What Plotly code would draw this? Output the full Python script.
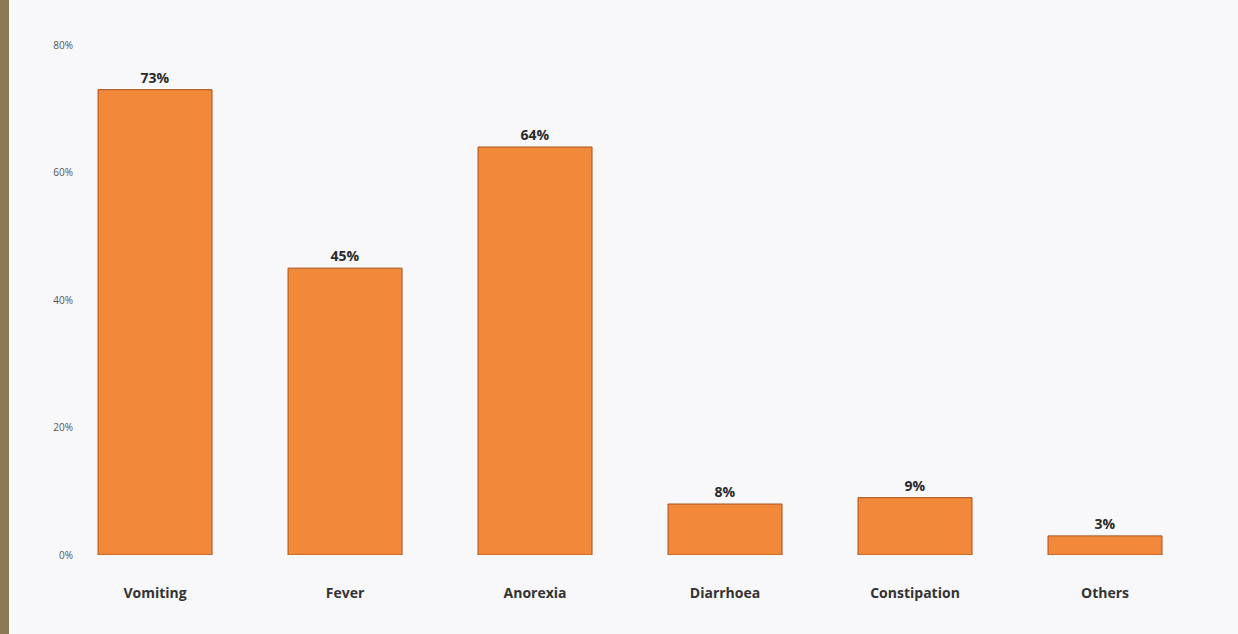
import plotly.graph_objects as go

# Symptom frequencies (percent of patients)
symptoms = ["Vomiting", "Fever", "Anorexia", "Diarrhoea", "Constipation", "Others"]
percent = [73, 45, 64, 8, 9, 3]
y_ticks = [0, 20, 40, 60, 80]
y_tick_text = ["0%", "20%", "40%", "60%", "80%"]

fig = go.Figure(
    go.Bar(
        x=symptoms,
        y=percent,
        width=0.6,
        marker=dict(color="#F2883A", line=dict(color="#A9521C", width=1)),
        texttemplate="%{y}%",
        textposition="outside",
        cliponaxis=False,
        textfont=dict(family="Open Sans", size=14, color="#2a2a2a", weight="bold"),
    )
)

fig.update_layout(
    width=1238,
    height=634,
    margin=dict(l=80, r=38, t=45, b=79),
    paper_bgcolor="#f8f7fa",
    plot_bgcolor="#f8f7fa",
    showlegend=False,
    xaxis=dict(
        range=[-0.395, 5.5],
        showgrid=False,
        showline=False,
        ticks="",
        ticklabelstandoff=28,
        tickfont=dict(family="Open Sans", size=14, color="#333333", weight="bold"),
    ),
    yaxis=dict(
        range=[0, 80],
        tickvals=y_ticks,
        ticktext=y_tick_text,
        ticklabelstandoff=6,
        showgrid=False,
        zeroline=False,
        showline=False,
        tickfont=dict(family="Open Sans", size=10, color="#555555"),
    ),
    shapes=[
        # brown page edge along the left side
        dict(type="rect", xref="paper", yref="paper",
             x0=-80 / 1120, x1=-71 / 1120, y0=-79 / 510, y1=45 / 510 + 1,
             fillcolor="#8b7a52", line=dict(width=0), layer="above"),
    ],
)

fig.write_html("out.html")
